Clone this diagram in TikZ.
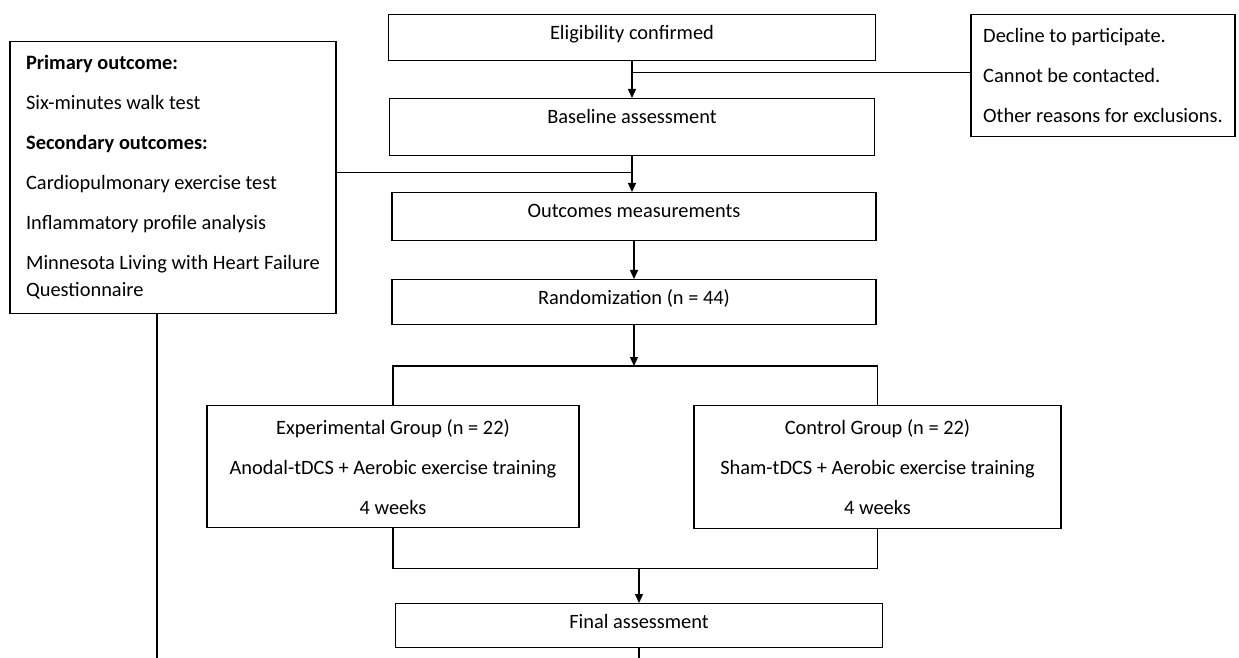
\documentclass[tikz,border=0pt]{standalone}
\usepackage{fontspec}
\setmainfont{Carlito}
\usepackage{tikz}
\usetikzlibrary{arrows.meta,positioning,calc}

\begin{document}
\begin{tikzpicture}[
    x=0.5pt, y=-0.5pt,
    font=\fontsize{10.2}{13.5}\selectfont,
    block/.style={rectangle, draw=black, line width=0.65pt, anchor=north, inner xsep=0pt, inner ysep=0pt, text height=12.5pt, align=center},
    group/.style={rectangle, draw=black, line width=0.65pt, anchor=north, align=center, font=\fontsize{10.2}{20}\selectfont},
    list/.style={rectangle, draw=black, line width=0.65pt, anchor=north, align=left},
    conn/.style={line width=0.65pt, draw=black},
    arrow/.style={conn, -{Triangle[length=4.5pt, width=4pt]}}
]
\useasboundingbox (0,0) rectangle (1239,658);

% main column
\node[block, minimum width=243.5pt, text depth=10.5pt] (elig) at (632,14) {Eligibility confirmed};
\node[block, minimum width=242.5pt, text depth=16pt] (base) at (632,98) {Baseline assessment};
\node[block, minimum width=242pt, text depth=11.5pt] (outc) at (634,192) {Outcomes measurements};
\node[block, minimum width=242pt, text depth=10pt] (rand) at (634,279) {Randomization (n = 44)};
\node[group, minimum width=186pt, minimum height=61pt] (exp) at (393,405) {Experimental Group (n = 22)\\ Anodal-tDCS + Aerobic exercise training\\ 4 weeks};
\node[group, minimum width=183.5pt, minimum height=61.5pt] (ctrl) at (877.5,405) {Control Group (n = 22)\\ Sham-tDCS + Aerobic exercise training\\ 4 weeks};
\node[block, minimum width=243.5pt, text depth=9.5pt] (final) at (639,603) {Final assessment};

% side boxes
\node[list, minimum width=163pt, minimum height=136pt] (meas) at (173,41) {\textbf{Primary outcome:}\\[6.5pt] Six-minutes walk test\\[6.5pt] \textbf{Secondary outcomes:}\\[6.5pt] Cardiopulmonary exercise test\\[6.5pt] Inflammatory profile analysis\\[6.5pt] Minnesota Living with Heart Failure\\ Questionnaire};
\node[list, font=\fontsize{10.2}{20}\selectfont, minimum width=132pt, minimum height=61pt] (excl) at (1103,14) {Decline to participate.\\ Cannot be contacted.\\ Other reasons for exclusions.};

\coordinate (split) at ($(exp.north)+(0,-39)$);
\coordinate (merge) at ($(exp.south)+(0,40)$);
\coordinate (floor) at (0,658);
\coordinate (meastap) at ([yshift=2.5pt]meas.east);
\coordinate (excltap) at ([yshift=1.5pt]excl.west);
\coordinate (drop) at ([xshift=-8pt]meas.south);

\draw[arrow] (elig.south) -- (elig.south |- base.north);
\draw[conn] (excltap) -- (excltap -| elig.south);
\draw[arrow] (base.south) -- (base.south |- outc.north);
\draw[conn] (meastap) -- (meastap -| base.south);
\draw[arrow] (outc.south) -- (outc.south |- rand.north);
\draw[conn] (exp.north) -- (split) -| (ctrl.north);
\draw[arrow] (rand.south) -- (rand.south |- split);
\draw[conn] (exp.south) -- (merge) -| (ctrl.south);
\draw[arrow] (final.north |- merge) -- (final.north);
\draw[conn] (final.south) -- (final.south |- floor);
\draw[conn] (drop) -- (drop |- floor);

\end{tikzpicture}
\end{document}
